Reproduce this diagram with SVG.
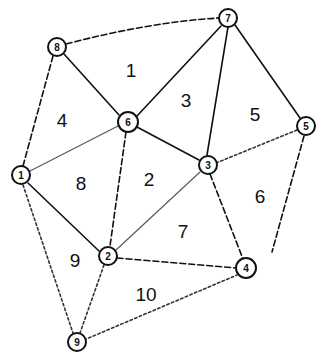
<svg xmlns="http://www.w3.org/2000/svg" width="321" height="358" viewBox="0 0 321 358">
<style>
.e{fill:none;stroke:#111;stroke-width:1.6;stroke-linecap:round}
.d{stroke-dasharray:6 3}
.t{stroke-dasharray:2.5 2.5;stroke:#333}
.l{stroke:#555;stroke-width:1.1}
.n circle{fill:#fff;stroke:#111;stroke-width:2}
.n text{font-family:"Liberation Sans",Arial,sans-serif;font-size:10px;font-weight:bold;fill:#111;text-anchor:middle}
.f{font-family:"Liberation Sans",Arial,sans-serif;font-size:19px;fill:#111;text-anchor:middle}
</style>
<rect width="321" height="358" fill="#fff"/>
<g id="connectors">
<path class="e d" d="M66,44 Q150,22 219,18"/>
<path class="e" d="M64,54 L119,115"/>
<path class="e d" d="M53,56 L23,166"/>
<path class="e" d="M221,26 L137,116"/>
<path class="e" d="M228,27 L207,155"/>
<path class="e" d="M235,25 L300,118"/>
<path class="e l" d="M30,171 L118,126"/>
<path class="e" d="M137,127 L199,160"/>
<path class="e d" d="M126,132 L110,246"/>
<path class="e t" d="M297,130 L216,163"/>
<path class="e d" d="M304,136 L272,252"/>
<path class="e l" d="M200,172 L116,250"/>
<path class="e d" d="M210,174 L243,259"/>
<path class="e" d="M28,183 L99,251"/>
<path class="e t" d="M23,185 L73,333"/>
<path class="e t" d="M104,265 L80,333"/>
<path class="e d" d="M117,258 L236,268"/>
<path class="e t" d="M84,340 L237,275"/>
</g>
<g id="n8" class="n"><circle cx="57" cy="47" r="9"/><text x="57" y="51">8</text></g>
<g id="n7" class="n"><circle cx="228" cy="18" r="9"/><text x="228" y="22">7</text></g>
<g id="n6" class="n"><circle cx="128" cy="122" r="10"/><text x="128" y="126">6</text></g>
<g id="n5" class="n"><circle cx="306" cy="126" r="9"/><text x="306" y="130">5</text></g>
<g id="n3" class="n"><circle cx="208" cy="165" r="9"/><text x="208" y="169">3</text></g>
<g id="n1" class="n"><circle cx="21" cy="175" r="9"/><text x="21" y="179">1</text></g>
<g id="n2" class="n"><circle cx="108" cy="256" r="9"/><text x="108" y="260">2</text></g>
<g id="n4" class="n"><circle cx="246" cy="268" r="10"/><text x="246" y="272">4</text></g>
<g id="n9" class="n"><circle cx="77" cy="342" r="9"/><text x="77" y="346">9</text></g>
<g id="faces">
<text class="f" x="131" y="77">1</text>
<text class="f" x="186" y="107">3</text>
<text class="f" x="255" y="121">5</text>
<text class="f" x="62" y="127">4</text>
<text class="f" x="81" y="190">8</text>
<text class="f" x="149" y="186">2</text>
<text class="f" x="260" y="203">6</text>
<text class="f" x="183" y="238">7</text>
<text class="f" x="75" y="267">9</text>
<text class="f" x="146" y="301">10</text>
</g>
</svg>
